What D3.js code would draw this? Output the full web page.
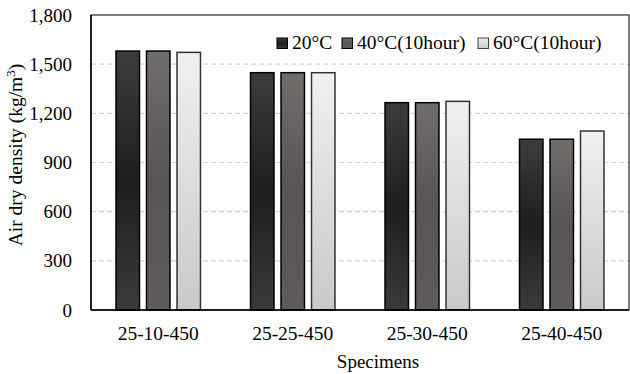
<!DOCTYPE html>
<html><head><meta charset="utf-8">
<script src="https://cdn.jsdelivr.net/npm/d3@7"></script>
<style>body{margin:0;background:#fff}svg{display:block}text{font-family:"Liberation Serif","Times New Roman",serif;fill:#000}</style>
</head><body>
<svg id="c" width="630" height="374"></svg>
<script>
const categories = ["25-10-450","25-25-450","25-30-450","25-40-450"];
const series = ["20°C","40°C(10hour)","60°C(10hour)"];
const values20 = [1580,1448,1265,1042];
const values40 = [1580,1448,1265,1042];
const values60 = [1572,1448,1273,1092];
const yTicks = [0,300,600,900,1200,1500,1800];
const seriesValues = [values20, values40, values60];

const svg = d3.select("#c");
const L=91, T=15, R=629, B=310;
const x = d3.scaleBand().domain(categories).range([L,R]);
const xi = d3.scaleBand().domain(series).range([0,x.bandwidth()]).paddingInner(0.23).paddingOuter(0.82);
const y = d3.scaleLinear().domain([0,1800]).range([B,T]);

const defs = svg.append("defs");
const grads = [
  [["0%","#3e3c3b"],["50%","#1e1e1e"],["100%","#3c3a39"]],
  [["0%","#716d6b"],["50%","#575453"],["100%","#5e5b5a"]],
  [["0%","#f0f0f0"],["100%","#c9c9c9"]]
];
grads.forEach((g,i)=>{
  const lg = defs.append("linearGradient").attr("id","g"+i).attr("x1",0).attr("y1",0).attr("x2",0).attr("y2",1);
  g.forEach(s=>lg.append("stop").attr("offset",s[0]).attr("stop-color",s[1]));
});
const strokes = ["#000","#000","#333"];

// gridlines
svg.append("g").selectAll("line").data(yTicks.filter(t=>t>0 && t<1800)).join("line")
  .attr("x1",L).attr("x2",R).attr("y1",d=>y(d)).attr("y2",d=>y(d))
  .attr("stroke","#d4d4d4").attr("stroke-width",1.2).attr("stroke-dasharray","5,3");

// bars
categories.forEach((c,ci)=>{
  series.forEach((s,si)=>{
    const v = seriesValues[si][ci];
    svg.append("rect")
      .attr("x", x(c)+xi(s)).attr("width", xi.bandwidth())
      .attr("y", y(v)).attr("height", y(0)-y(v))
      .attr("fill","url(#g"+si+")").attr("stroke",strokes[si]).attr("stroke-width",1.5);
  });
});

// frame
svg.append("rect").attr("x",L).attr("y",T).attr("width",R-L).attr("height",B-T)
  .attr("fill","none").attr("stroke","#000").attr("stroke-width",1);
svg.append("line").attr("x1",L).attr("x2",R).attr("y1",B).attr("y2",B).attr("stroke","#000").attr("stroke-width",1.5);
svg.append("line").attr("x1",L).attr("x2",L).attr("y1",T).attr("y2",B).attr("stroke","#000").attr("stroke-width",1.5);

// y axis labels
const ya = svg.append("g").attr("transform",`translate(${L},0)`)
  .call(d3.axisLeft(y).tickValues(yTicks).tickSize(0).tickPadding(19).tickFormat(d3.format(",")));
ya.attr("font-family",null);
ya.select(".domain").remove();
ya.selectAll("text").style("font-size","19px").style("font-family","'Liberation Serif', serif");

// x axis labels
const xa = svg.append("g").attr("transform",`translate(0,${B})`)
  .call(d3.axisBottom(x).tickSize(0).tickPadding(16));
xa.attr("font-family",null);
xa.select(".domain").remove();
xa.selectAll("text").style("font-size","19.5px").style("font-family","'Liberation Serif', serif");

// axis titles
svg.append("text").attr("x",378).attr("y",368).attr("text-anchor","middle").style("font-size","19px").text("Specimens");
const yt = svg.append("text").attr("transform","translate(22,155) rotate(-90)").attr("text-anchor","middle").style("font-size","19.5px");
yt.append("tspan").text("Air dry density (kg/m");
yt.append("tspan").attr("dy",-7).style("font-size","13px").text("3");
yt.append("tspan").attr("dy",7).text(")");

// legend
const legX = [277, 342, 478];
series.forEach((s,i)=>{
  const g = svg.append("g").attr("transform",`translate(${legX[i]},38)`);
  g.append("rect").attr("x",0).attr("y",0).attr("width",10.5).attr("height",10.5)
    .attr("fill","url(#g"+i+")").attr("stroke",i==2?"#444":"#000").attr("stroke-width",1);
  g.append("text").attr("x",15).attr("y",11).style("font-size","19.5px").text(s);
});
</script>
</body></html>
